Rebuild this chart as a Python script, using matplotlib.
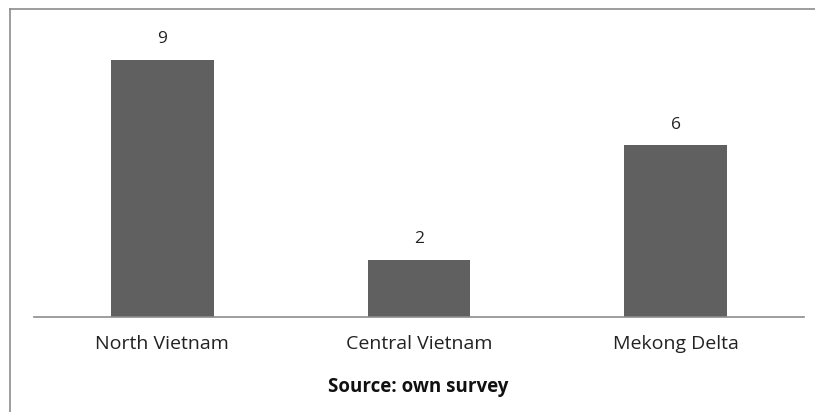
import matplotlib.pyplot as plt
from matplotlib.lines import Line2D

regions = ["North Vietnam", "Central Vietnam", "Mekong Delta"]
counts = [9, 2, 6]
source_note = "Source: own survey"

W, H = 815, 412
plt.rcParams["font.family"] = ["Open Sans", "DejaVu Sans"]

fig = plt.figure(figsize=(W / 100, H / 100), dpi=100)

# outer frame: only the top and left edges show in the original
frame_kw = dict(transform=fig.transFigure, color="#8c8c8c", linewidth=1.2)
fig.lines.append(Line2D([9.5 / W, 1.0], [1 - 9 / H, 1 - 9 / H], **frame_kw))
fig.lines.append(Line2D([9.5 / W, 9.5 / W], [0.0, 1 - 9 / H], **frame_kw))

# axes: x 34..804 px, y baseline 317, top 31
ax = fig.add_axes([34 / W, (H - 317) / H, (804 - 34) / W, (317 - 31) / H])
x = range(len(regions))
bars = ax.bar(x, counts, width=0.40, color="#606060")
ax.set_xlim(-0.5, len(regions) - 0.5)
ax.set_ylim(0, 10)

for b, v in zip(bars, counts):
    ax.annotate(str(v), (b.get_x() + b.get_width() / 2, v), xytext=(0, 15),
                textcoords="offset points", ha="center", va="center",
                fontsize=12.5, color="#222222")

ax.set_xticks(list(x))
ax.set_xticklabels(regions, fontsize=14, color="#222222")
ax.tick_params(axis="x", length=0, pad=13)
ax.set_yticks([])
for s in ["top", "right", "left"]:
    ax.spines[s].set_visible(False)
ax.spines["bottom"].set_color("#8c8c8c")
ax.spines["bottom"].set_linewidth(1.2)

fig.text(418 / W, 1 - 387 / H, source_note, ha="center", va="center",
         fontsize=13.5, fontweight="bold", color="#111111")

fig.savefig("out.png", dpi=100)
